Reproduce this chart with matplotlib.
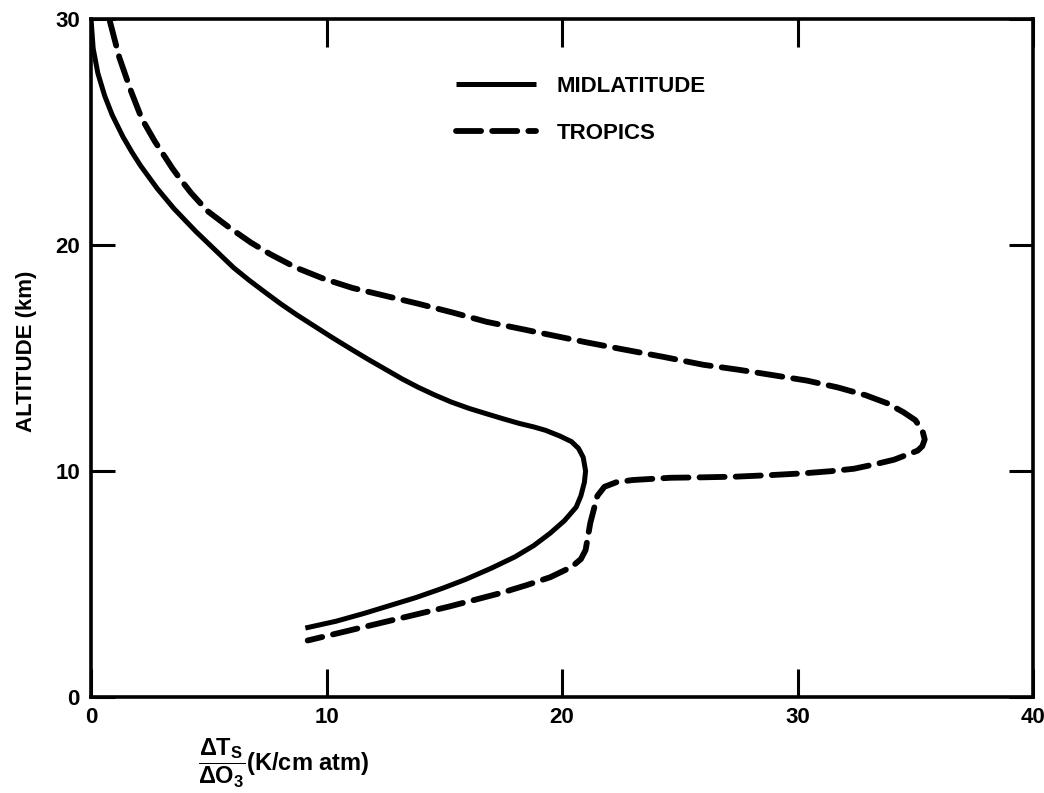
import matplotlib
matplotlib.use("Agg")
import matplotlib.pyplot as plt

plt.rcParams['font.family'] = ['Liberation Sans', 'DejaVu Sans']
plt.rcParams['font.weight'] = 'bold'
plt.rcParams['mathtext.fontset'] = 'custom'
plt.rcParams['mathtext.rm'] = 'Liberation Sans:bold'
plt.rcParams['mathtext.it'] = 'Liberation Sans:bold'
plt.rcParams['mathtext.bf'] = 'Liberation Sans:bold'

# midlatitude curve (dT_s/dO3, altitude km)
mid_x = [0.0, 0.09, 0.29, 0.58, 0.9, 1.35, 1.74, 2.11, 2.81, 3.53, 4.45, 5.45,
         6.05, 6.7, 7.4, 8.05, 8.75, 9.5, 10.25, 11.0, 11.75, 12.5, 13.2, 13.9,
         14.6, 15.3, 16.05, 16.8, 17.5, 18.2, 18.8, 19.3, 19.9, 20.4, 20.7,
         20.9, 21.0, 20.95, 20.8, 20.6, 20.1, 19.5, 18.8, 18.0, 17.0, 15.9,
         14.9, 13.8, 12.7, 11.6, 10.4, 9.1]
mid_y = [30.0, 28.7, 27.6, 26.6, 25.75, 24.8, 24.1, 23.5, 22.5, 21.6, 20.6,
         19.6, 19.0, 18.45, 17.9, 17.4, 16.9, 16.4, 15.9, 15.42, 14.95, 14.5,
         14.08, 13.7, 13.36, 13.05, 12.77, 12.53, 12.31, 12.1, 11.95, 11.8,
         11.55, 11.3, 11.0, 10.6, 10.0, 9.5, 8.9, 8.4, 7.8, 7.25, 6.7, 6.2,
         5.7, 5.2, 4.8, 4.4, 4.05, 3.7, 3.35, 3.05]

# tropics curve
trop_x = [0.8, 1.2, 1.7, 2.15, 2.7, 3.45, 3.8, 4.25, 4.95, 5.9, 6.8, 7.6, 8.7,
          9.9, 11.1, 12.5, 13.9, 15.4, 16.8, 18.2, 19.6, 21.0, 22.5, 24.3,
          26.0, 27.5, 28.9, 30.4, 31.7, 32.9, 33.8, 34.5, 35.0, 35.3, 35.4,
          35.3, 35.1, 34.6, 34.1, 33.3, 32.4, 31.4, 30.3, 28.9, 27.4, 26.0,
          24.6, 23.0, 22.3, 21.8, 21.5, 21.35, 21.2, 21.1, 21.0, 20.8, 20.4,
          19.5, 18.5, 17.4, 16.3, 15.2, 13.8, 12.4, 10.8, 9.2]
trop_y = [29.9, 28.3, 26.8, 25.6, 24.6, 23.4, 22.9, 22.3, 21.5, 20.75, 20.1,
          19.6, 19.0, 18.5, 18.1, 17.75, 17.4, 17.0, 16.6, 16.3, 16.0, 15.7,
          15.4, 15.05, 14.7, 14.48, 14.25, 14.0, 13.7, 13.35, 13.0, 12.6,
          12.25, 11.8, 11.4, 11.1, 10.9, 10.7, 10.5, 10.3, 10.1, 9.99, 9.9,
          9.82, 9.75, 9.72, 9.7, 9.6, 9.5, 9.3, 8.9, 8.3, 7.7, 7.1, 6.5, 6.1,
          5.75, 5.3, 4.95, 4.6, 4.3, 4.0, 3.65, 3.3, 2.9, 2.5]

ticks = [0, 10, 20, 30, 40]
yticks = [0, 10, 20, 30]

fig = plt.figure(figsize=(10.44, 7.93), dpi=100)
ax = fig.add_axes([0.0872, 0.1211, 0.9023, 0.8549])

ax.plot(mid_x, mid_y, color="black", lw=3.6, solid_capstyle="butt",
        solid_joinstyle="round", label="MIDLATITUDE")
ax.plot(trop_x, trop_y, color="black", lw=4.2, dashes=(4.3, 1.9),
        dash_capstyle="round", dash_joinstyle="round", label="TROPICS")

ax.set_xlim(0, 40)
ax.set_ylim(0, 30)
ax.set_xticks(ticks)
ax.set_yticks(yticks)
ax.tick_params(direction="in", width=2.2, length=20, labelsize=16, pad=7,
               top=True, right=True)
ax.tick_params(axis="y", length=17, pad=8)
for s in ax.spines.values():
    s.set_linewidth(2.6)

ax.set_ylabel("ALTITUDE (km)", fontsize=16, fontweight="bold")
ax.yaxis.set_label_coords(-0.057, 0.51)

fig.text(0.272, 0.037, r'$\dfrac{\Delta \mathrm{T_S}}{\Delta \mathrm{O_3}}$(K/cm atm)',
         fontsize=17, fontweight="bold", ha="center", va="center")

ax.legend(loc="upper left", bbox_to_anchor=(0.376, 0.933), frameon=False,
          borderpad=0, fontsize=16, handlelength=3.6, handletextpad=0.9,
          labelspacing=1.2)

fig.savefig("out.png", dpi=100)
